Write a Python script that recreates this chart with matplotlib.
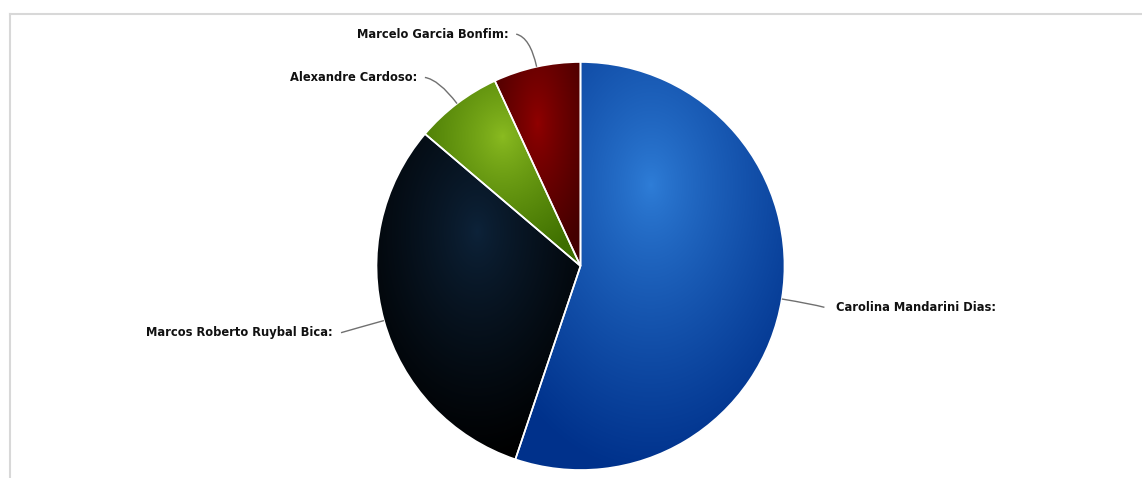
import numpy as np
import matplotlib.pyplot as plt
from matplotlib.colors import to_rgb
from matplotlib.path import Path
from matplotlib.patches import PathPatch

# Data
names = ["Carolina Mandarini Dias", "Marcos Roberto Ruybal Bica",
         "Alexandre Cardoso", "Marcelo Garcia Bonfim"]
values = [16, 9, 2, 2]
colors = ["#2f7ed8", "#0d233a", "#8bbc21", "#910000"]

W, H = 1142, 478
CX, CY, R = 580.5, H - 266, 204


def darken(c, amt=0.3):
    return np.clip(np.array(to_rgb(c)) - amt, 0, 1)


fig = plt.figure(figsize=(W / 100, H / 100), dpi=100)
ax = fig.add_axes([0, 0, 1, 1])
ax.axis("off")

# frame lines of the chart container
ax.plot([10, W], [H - 14, H - 14], color="#d8d8d8", lw=1.5)
ax.plot([10, 10], [0, H - 14], color="#d8d8d8", lw=1.5)

wedges, _ = ax.pie(values, startangle=90, counterclock=False,
                   center=(CX, CY), radius=R,
                   wedgeprops=dict(edgecolor="white", linewidth=1.2))
ax.set_xlim(0, W)
ax.set_ylim(0, H)
ax.set_aspect("auto")

# radial gradient fill per slice (bbox relative, cx .5, cy .3, r .7)
yy, xx = np.mgrid[0:H, 0:W] + 0.5
for w, c in zip(wedges, colors):
    verts = w.get_patch_transform().transform(w.get_path().vertices)
    x0, x1 = verts[:, 0].min(), verts[:, 0].max()
    y0, y1 = verts[:, 1].min(), verts[:, 1].max()
    bw, bh = x1 - x0, y1 - y0
    gx, gy = x0 + 0.5 * bw, y1 - 0.3 * bh
    t = np.sqrt(((xx - gx) / (0.7 * bw)) ** 2 + ((yy - gy) / (0.7 * bh)) ** 2)
    t = np.clip(t, 0, 1)[..., None] ** 0.8
    c0 = np.array(to_rgb(c))
    c1 = darken(c)
    img = c0 * (1 - t) + c1 * t
    im = ax.imshow(img, extent=(0, W, 0, H), origin="lower", zorder=1.5,
                   interpolation="bilinear")
    im.set_clip_path(w)
    w.set_facecolor("none")
    w.set_zorder(2)

# labels with curved connectors
cum = np.cumsum([0] + values[:-1])
total = sum(values)
for name, v, s in zip(names, values, cum):
    mid = 90 - 360 * (s + v / 2) / total
    a = np.deg2rad(mid)
    ex, ey = CX + R * np.cos(a), CY + R * np.sin(a)
    lx, ly = CX + (R + 30) * np.cos(a), CY + (R + 30) * np.sin(a)
    right = np.cos(a) >= 0
    tx = lx + (25 if right else -22)
    ty = CY + (R + 36) * np.sin(a) - 2.5
    end = tx - 12 if right else tx + 8
    p = Path([(ex, ey), (lx, ly), (end, ty)],
             [Path.MOVETO, Path.CURVE3, Path.CURVE3])
    ax.add_patch(PathPatch(p, fill=False, edgecolor="#707070", lw=1.0,
                           zorder=3))
    ax.text(tx, ty, name + ":", ha="left" if right else "right",
            va="center", fontsize=8.3, fontweight="bold", color="#111111",
            zorder=4)

fig.savefig("out.png", dpi=100)
